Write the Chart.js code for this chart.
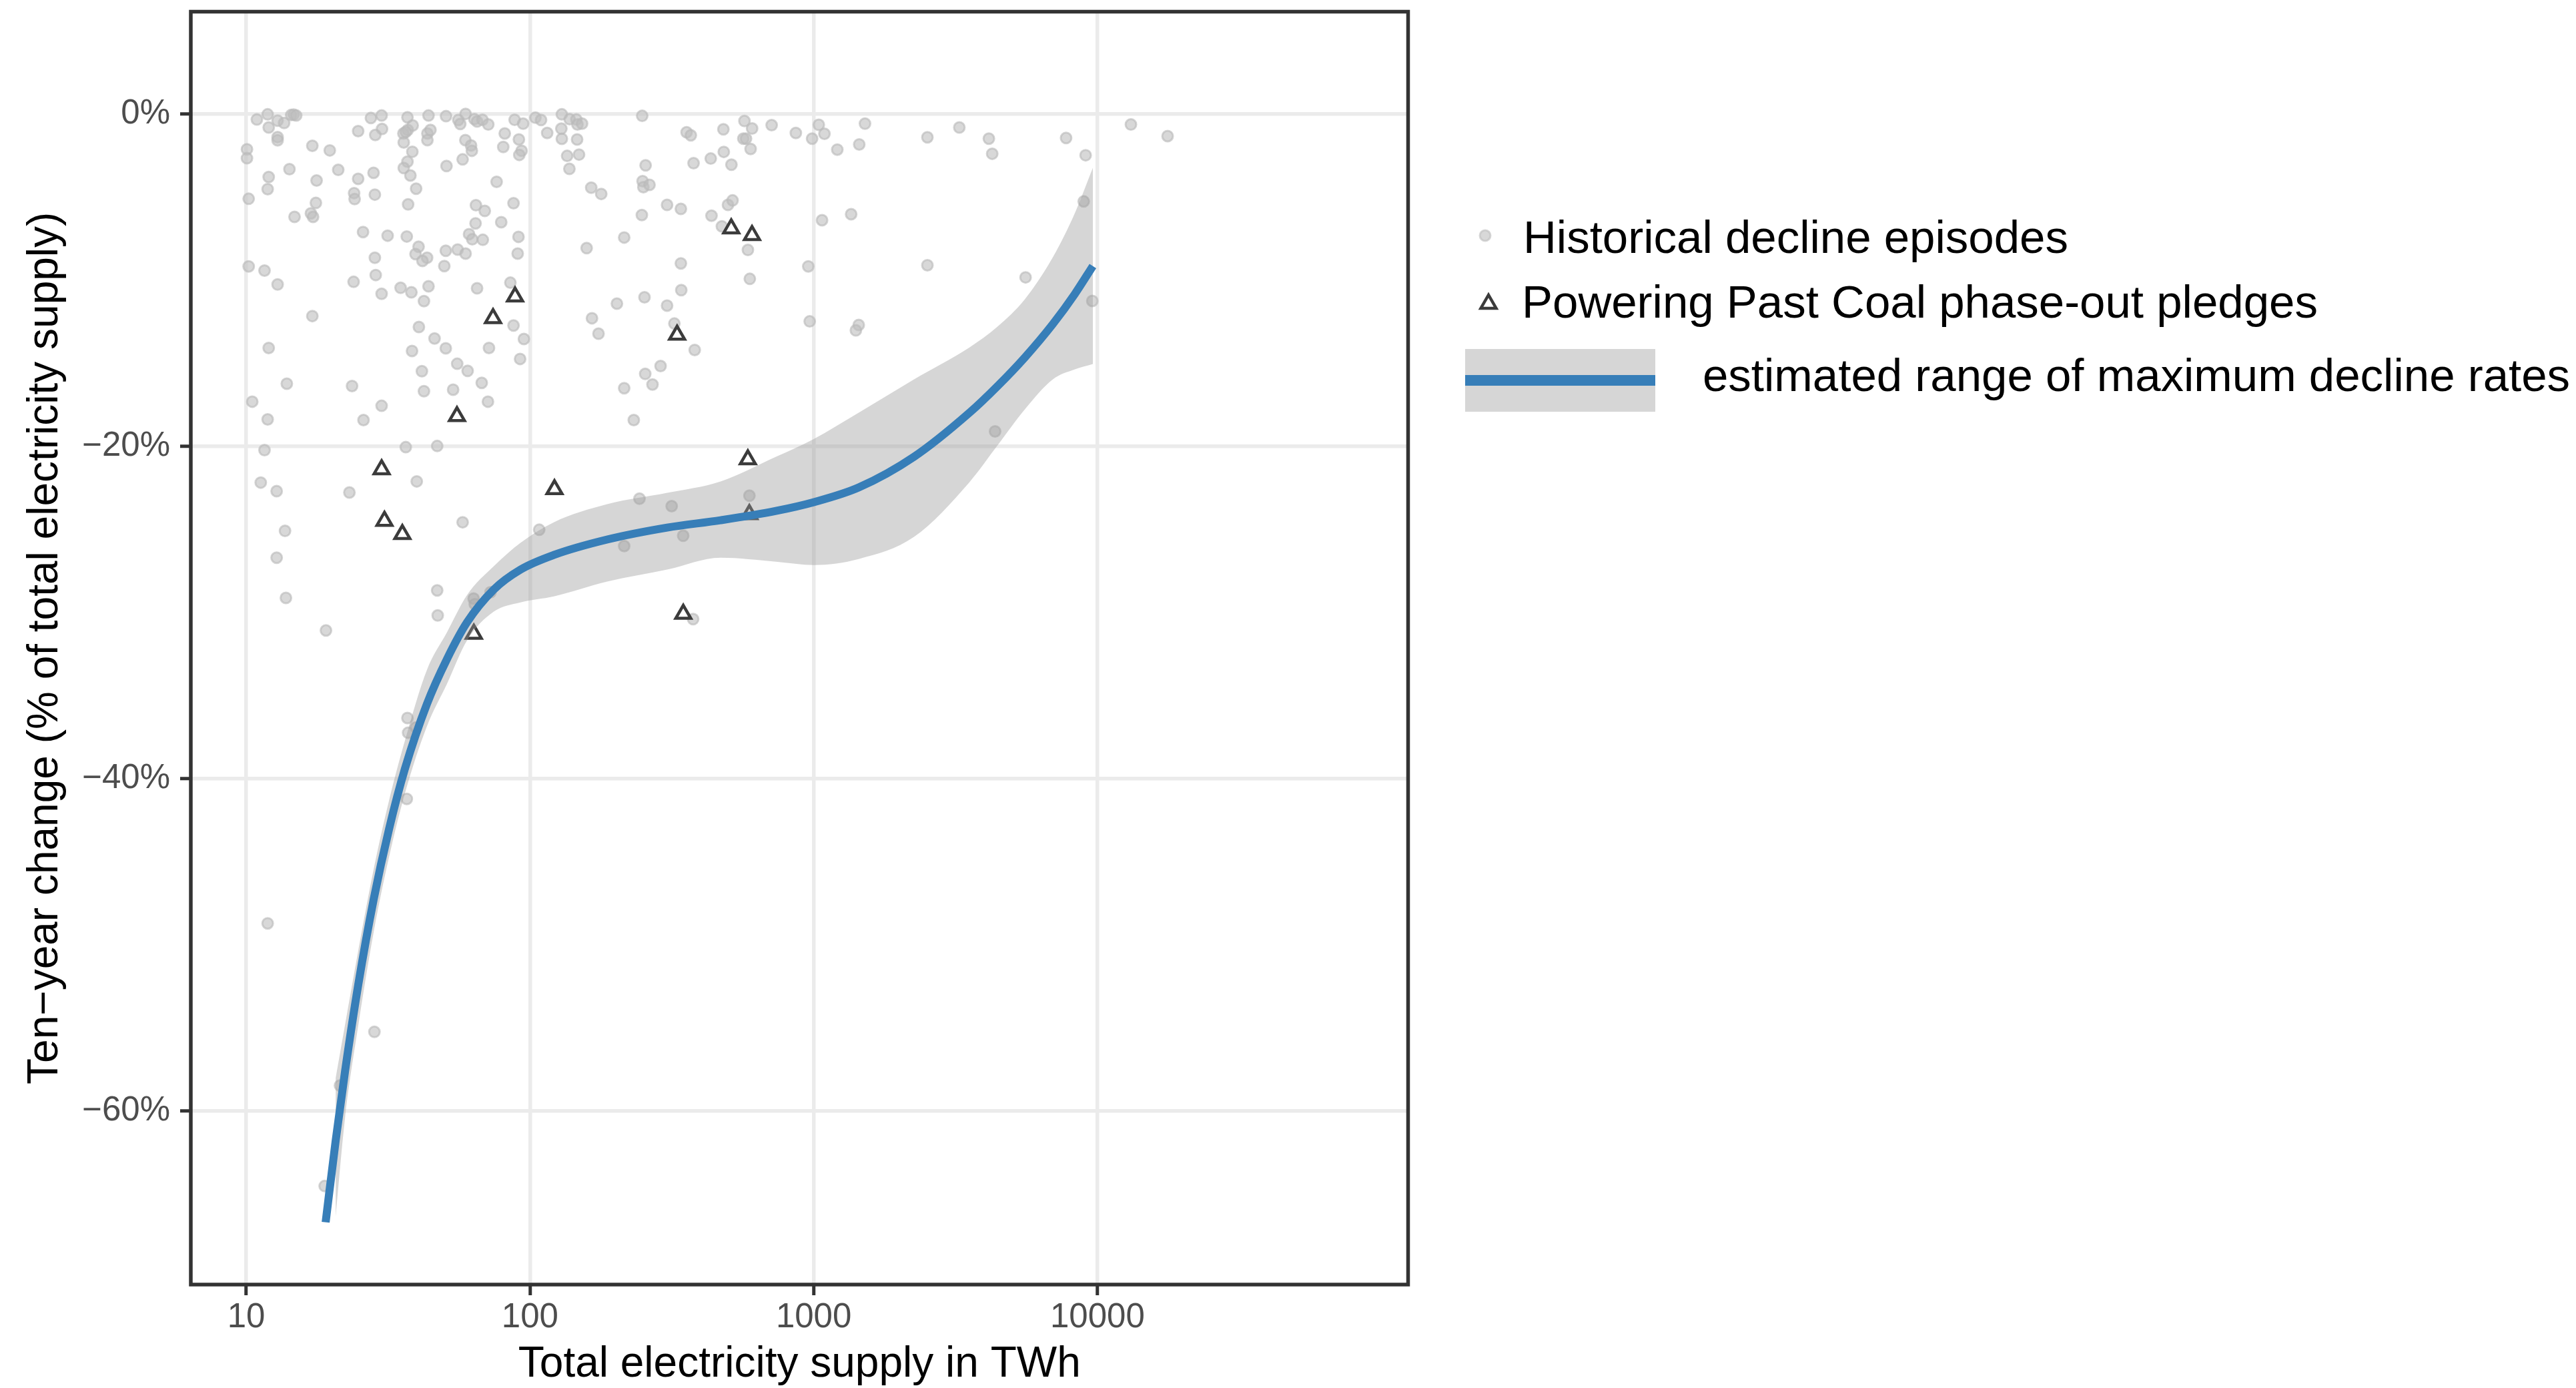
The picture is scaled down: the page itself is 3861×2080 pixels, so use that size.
<!DOCTYPE html>
<html>
<head>
<meta charset="utf-8">
<script src="https://cdn.jsdelivr.net/npm/chart.js@4"></script>
<style>
  body { margin: 0; background: #fff; overflow: hidden; }
  #wrap { position: relative; width: 3861px; height: 2080px; }
  .leg { position: absolute; font: 69px/69px "Liberation Sans", Arial, Helvetica, sans-serif; color: #000; white-space: nowrap; }
  svg { position: absolute; left: 0; top: 0; }
</style>
</head>
<body>
<div id="wrap">
  <canvas id="mycanvas" width="3861" height="2080"></canvas>
  <svg width="3861" height="2080">
    <circle cx="2226" cy="353" r="8" fill="rgba(190,190,190,0.6)" stroke="rgba(190,190,190,0.6)" stroke-width="3"/>
    <polygon points="2231,442 2219.5,462 2242.5,462" fill="none" stroke="#3b3b3b" stroke-width="4.5" stroke-linejoin="miter"/>
    <rect x="2196" y="523" width="285" height="94" fill="#d6d6d6"/>
    <line x1="2196" y1="570" x2="2481" y2="570" stroke="#377eb8" stroke-width="16"/>
  </svg>
  <div class="leg" style="left:2283px;top:321px">Historical decline episodes</div>
  <div class="leg" style="left:2281px;top:418px">Powering Past Coal phase-out pledges</div>
  <div class="leg" style="left:2552px;top:528px">estimated range of maximum decline rates</div>
</div>
<script>
// historical decline episodes (TWh, ten-year change in %)
var histSupply = [
  10.9, 11.9, 12.9, 13.6, 14.4, 14.7, 15.0, 12.0, 12.9, 12.9,
  27.5, 30.0, 30.1, 28.5, 24.8, 37.0, 43.9, 37.1, 38.6, 35.8,
  36.5, 43.5, 44.6, 43.5, 35.9, 50.6, 55.9, 56.8, 59.3, 63.7,
  65.1, 68.0, 71.3, 59.2, 62.0, 62.4, 81.5, 88.3, 94.6, 91.4,
  93.4, 91.7, 80.5, 104.5, 109.4, 115, 129.5, 129, 138, 145.7,
  147, 152.6, 146.6, 129.5, 135.2, 148.9, 137.7, 248.6, 356.5, 368.9,
  480.5, 570, 606.6, 710.9, 564.8, 577.3, 599.2, 482, 433.6, 512.9,
  377.2, 255.6, 10.06, 10.06, 17.1, 19.7, 14.2, 12.0, 17.7, 21.1,
  24.8, 28.1, 11.9, 10.2, 24.0, 24.1, 28.4, 17.6, 14.8, 16.9,
  17.2, 37.2, 37.0, 35.9, 37.9, 39.7, 38.5, 50.8, 57.9, 76.3,
  64.5, 69.3, 87.5, 64.3, 79.2, 61.0, 62.6, 68.2, 91.1, 90.5,
  164.4, 178.3, 249.4, 251, 263.8, 304.2, 340.3, 247.9, 436.3, 498.7,
  517.6, 474.6, 214.8, 158.4, 586.2, 25.8, 31.5, 36.8, 40.5, 39.5,
  43.4, 41.8, 50.5, 55.6, 59.3, 49.9, 28.4, 28.6, 23.9, 10.2,
  11.6, 12.9, 35.0, 38.2, 43.9, 30.0, 42.3, 65.1, 85.3, 340.3,
  341.4, 253.3, 202.5, 304.2, 595.4, 17.1, 165.4, 174.4, 322.8, 40.6,
  46.1, 50.5, 38.4, 71.7, 87.5, 95.2, 92.3, 380.7, 12.0, 55.4,
  60.3, 41.6, 288.6, 254.8, 270.3, 214.8, 13.9, 23.6, 42.3, 53.6,
  67.6, 10.5, 71.1, 30.0, 11.9, 25.9, 232.2, 11.6, 36.5, 47.1,
  865, 1042, 1091, 987, 1516, 1447, 1211, 2516, 3260, 4143,
  4257, 7753, 9085, 13120, 17670, 1070, 1355, 957, 2516, 5581,
  8945, 9592, 968, 1441, 1408, 4357, 11.25, 12.8, 23.1, 39.9,
  57.9, 13.7, 12.8, 13.8, 19.1, 47.1, 47.3, 63.3, 63.9, 72.6,
  243.2, 315.8, 593.5, 107.8, 214.8, 346.7, 375.8, 37.0, 37.2, 39.6,
  36.8, 11.9, 28.3, 21.4, 18.9
];
var histChange = [
  -0.34, -0.03, -0.41, -0.55, -0.07, -0.05, -0.10, -0.82, -1.40, -1.59,
  -0.25, -0.10, -0.91, -1.27, -1.04, -0.21, -0.10, -0.97, -0.70, -1.18,
  -1.09, -1.18, -0.97, -1.58, -1.72, -0.14, -0.37, -0.61, 0, -0.32,
  -0.46, -0.36, -0.64, -1.58, -1.90, -2.22, -1.18, -0.36, -0.59, -1.54,
  -2.22, -2.47, -1.99, -0.23, -0.37, -1.15, -0.03, -0.89, -0.32, -0.34,
  -0.64, -0.59, -1.54, -1.50, -2.53, -2.45, -3.31, -0.12, -1.11, -1.29,
  -0.93, -0.43, -0.88, -0.68, -1.49, -1.49, -2.11, -2.29, -2.69, -3.06,
  -2.97, -3.10, -2.13, -2.67, -1.92, -2.20, -3.33, -3.80, -4.01, -3.37,
  -3.91, -3.55, -4.53, -5.11, -4.77, -5.13, -4.86, -5.36, -6.20, -5.99,
  -6.20, -5.45, -2.88, -3.26, -3.71, -4.50, -2.28, -3.14, -2.74, -4.09,
  -5.50, -5.84, -5.38, -6.59, -6.52, -7.24, -7.55, -7.58, -7.40, -8.41,
  -4.44, -4.82, -4.05, -4.41, -4.27, -5.48, -5.72, -6.09, -6.13, -5.48,
  -5.21, -6.77, -7.44, -8.08, -8.19, -7.11, -7.33, -7.38, -8.00, -8.44,
  -8.66, -8.85, -8.24, -8.17, -8.41, -9.16, -8.66, -9.70, -10.11, -9.18,
  -9.43, -10.27, -10.47, -10.74, -10.38, -10.83, -11.27, -10.50, -10.16, -9.00,
  -10.61, -11.04, -11.42, -11.54, -9.93, -12.17, -12.30, -13.23, -12.62, -12.83,
  -13.52, -14.11, -14.27, -14.09, -12.74, -13.55, -14.75, -14.21, -14.09, -15.04,
  -15.47, -15.49, -15.18, -15.65, -16.29, -16.51, -16.24, -16.38, -16.69, -16.60,
  -16.19, -17.32, -17.32, -17.57, -18.39, -18.43, -18.43, -20.24, -20.06, -19.99,
  -1.15, -0.66, -1.20, -1.49, -0.59, -1.84, -2.15, -1.41, -0.82, -1.49,
  -2.40, -1.45, -2.49, -0.64, -1.34, -6.40, -6.04, -9.18, -9.11, -9.84,
  -5.27, -11.26, -12.49, -12.71, -13.03, -19.11, -22.19, -22.71, -22.79, -22.12,
  -24.58, -25.10, -26.71, -29.13, -31.09, -28.68, -30.19, -29.17, -29.51, -28.79,
  -23.16, -23.61, -22.98, -25.03, -26.01, -25.39, -30.41, -36.36, -37.25, -36.93,
  -41.23, -48.72, -55.25, -58.48, -64.53
];

// Powering Past Coal pledges
var pledgeSupply = [512, 606, 88.6, 74.1, 330, 55.3, 586, 30.0, 122, 30.7, 35.5, 63.4, 347, 593];
var pledgeChange = [-6.9, -7.3, -11.0, -12.3, -13.3, -18.2, -20.8, -21.4, -22.6, -24.5, -25.3, -31.3, -30.1, -24.1];

// fitted maximum decline rate
var fitSupply = [19.05, 20.66, 22.28, 24.83, 28.13, 31.86, 36.27, 43.37, 51.0, 60.01, 74.54, 92.55, 121.3,
  187.1, 304.5, 469.7, 736.0, 1002, 1440, 2257, 3538, 4442, 5546, 6963, 8323, 9634];
var fitChange = [-66.71, -61.81, -57.67, -52.40, -47.27, -43.05, -39.40, -35.50, -32.81, -30.60, -28.63, -27.43, -26.55,
  -25.62, -24.90, -24.46, -23.90, -23.37, -22.49, -20.64, -17.99, -16.39, -14.66, -12.65, -10.84, -9.16];

// confidence band
var bandSupply = [20.66, 22.28, 24.83, 28.13, 31.86, 36.27, 43.37, 51.0, 60.01, 74.54, 92.55, 121.3,
  187.1, 304.5, 469.7, 736.0, 1002, 1440, 2257, 3538, 4442, 5546, 6963, 8323, 9634];
var bandUpper = [-58.03, -54.86, -50.35, -45.46, -41.33, -37.71, -33.45, -31.2, -28.96, -27.23, -25.82, -24.58,
  -23.49, -22.81, -22.12, -20.64, -19.56, -17.99, -15.98, -14.06, -12.81, -11.16, -8.63, -5.98, -3.25];
var bandLower = [-66.35, -60.48, -54.86, -49.24, -44.74, -40.88, -36.84, -34.3, -31.69, -29.96, -29.40, -29.04,
  -28.15, -27.43, -26.71, -26.95, -27.15, -26.79, -25.46, -22.17, -19.96, -17.79, -15.98, -15.38, -15.06];

var xTicks = [10, 100, 1000, 10000];
var yTicks = [-60, -40, -20, 0];

function pairs(xs, ys) {
  return xs.map(function (x, i) { return { x: x, y: ys[i] }; });
}

Chart.defaults.font.family = '"Liberation Sans", Arial, Helvetica, sans-serif';

var panelBorder = {
  id: 'panelBorder',
  afterDatasetsDraw: function (chart) {
    var a = chart.chartArea, ctx = chart.ctx;
    ctx.save();
    ctx.strokeStyle = '#333333';
    ctx.lineWidth = 5.5;
    ctx.strokeRect(a.left, a.top, a.right - a.left, a.bottom - a.top);
    ctx.restore();
  }
};

var ctx = document.getElementById('mycanvas');

var chart = new Chart(ctx, {
  type: 'scatter',
  data: {
    datasets: [
      {
        type: 'line',
        label: 'fit',
        data: pairs(fitSupply, fitChange),
        borderColor: '#377eb8',
        borderWidth: 12,
        borderCapStyle: 'butt',
        pointRadius: 0,
        fill: false,
        cubicInterpolationMode: 'monotone',
        order: 0
      },
      {
        type: 'line',
        label: 'band upper',
        data: pairs(bandSupply, bandUpper),
        borderWidth: 0,
        borderColor: 'rgba(0,0,0,0)',
        pointRadius: 0,
        fill: '+1',
        backgroundColor: 'rgba(153,153,153,0.4)',
        cubicInterpolationMode: 'monotone',
        order: 1
      },
      {
        type: 'line',
        label: 'band lower',
        data: pairs(bandSupply, bandLower),
        borderWidth: 0,
        borderColor: 'rgba(0,0,0,0)',
        pointRadius: 0,
        fill: false,
        cubicInterpolationMode: 'monotone',
        order: 1
      },
      {
        label: 'Powering Past Coal phase-out pledges',
        data: pairs(pledgeSupply, pledgeChange),
        pointStyle: 'triangle',
        pointRadius: 13,
        borderWidth: 4.5,
        borderColor: '#3b3b3b',
        backgroundColor: 'rgba(0,0,0,0)',
        order: 2
      },
      {
        label: 'Historical decline episodes',
        data: pairs(histSupply, histChange),
        pointStyle: 'circle',
        pointRadius: 8,
        borderWidth: 3,
        borderColor: 'rgba(185,185,185,0.62)',
        backgroundColor: 'rgba(190,190,190,0.6)',
        order: 3
      }
    ]
  },
  options: {
    responsive: false,
    animation: false,
    devicePixelRatio: 1,
    events: [],
    layout: { padding: { left: 0, top: 13.5, right: 1750.5, bottom: 0 } },
    plugins: {
      legend: { display: false },
      tooltip: { enabled: false }
    },
    scales: {
      x: {
        type: 'logarithmic',
        min: 6.378,
        max: 124400,
        afterBuildTicks: function (scale) {
          scale.ticks = xTicks.map(function (v) { return { value: v }; });
        },
        afterFit: function (scale) {
          scale.height = 155;
          scale.paddingLeft = 0;
          scale.paddingRight = 0;
          scale.paddingTop = 0;
          scale.paddingBottom = 0;
        },
        ticks: {
          color: '#4d4d4d',
          font: { size: 51 },
          padding: 3,
          autoSkip: false,
          maxRotation: 0,
          callback: function (v) { return String(v); }
        },
        grid: { color: '#ebebeb', lineWidth: 5.5, tickColor: '#333333', tickLength: 16, tickWidth: 5 },
        border: { display: false },
        title: {
          display: true,
          text: 'Total electricity supply in TWh',
          color: '#000',
          font: { size: 64, lineHeight: 1 },
          padding: { top: 0, bottom: 3 }
        }
      },
      y: {
        type: 'linear',
        min: -70.46,
        max: 6.15,
        afterBuildTicks: function (scale) {
          scale.ticks = yTicks.map(function (v) { return { value: v }; });
        },
        afterFit: function (scale) {
          scale.width = 286;
          scale.paddingLeft = 0;
          scale.paddingRight = 0;
          scale.paddingTop = 0;
          scale.paddingBottom = 0;
        },
        ticks: {
          color: '#4d4d4d',
          font: { size: 51 },
          padding: 15,
          callback: function (v) { return (v < 0 ? '\u2212' + (-v) : v) + '%'; }
        },
        grid: { color: '#ebebeb', lineWidth: 5.5, tickColor: '#333333', tickLength: 16, tickWidth: 5 },
        border: { display: false },
        title: {
          display: true,
          text: 'Ten\u2212year change (% of total electricity supply)',
          color: '#000',
          font: { size: 64, lineHeight: 1.2 },
          padding: { top: 29.6, bottom: 0 }
        }
      }
    }
  },
  plugins: [panelBorder]
});
</script>
</body>
</html>
